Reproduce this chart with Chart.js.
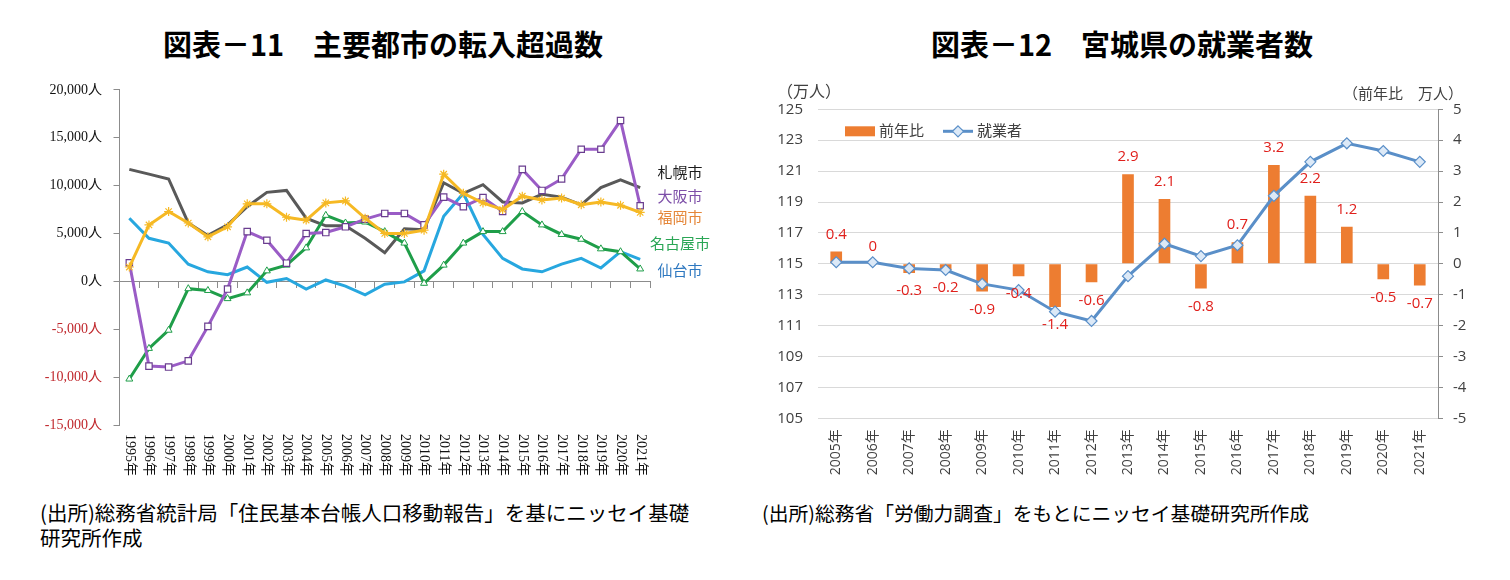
<!DOCTYPE html>
<html lang="ja">
<head>
<meta charset="utf-8">
<script src="https://cdn.jsdelivr.net/npm/chart.js@4.4.1/dist/chart.umd.min.js"></script>
<style>
  body { margin: 0; background: #fff; }
  #wrap { position: relative; width: 1510px; height: 580px; overflow: hidden; font-family: "Noto Sans CJK JP", sans-serif; }
  .title { position: absolute; top: 28px; line-height: 30px; font-size: 29px; font-weight: bold; white-space: nowrap; transform: translateX(-50%); color: #000; }
  .note { position: absolute; top: 500px; font-size: 20.5px; line-height: 25px; color: #000; white-space: nowrap; }
  .unit { position: absolute; line-height: 22px; color: #404040; white-space: nowrap; }
  canvas { position: absolute; }
</style>
</head>
<body>
<div id="wrap">
  <div class="title" style="left:383px">図表－11　主要都市の転入超過数</div>
  <div class="title" style="left:1122px">図表－12　宮城県の就業者数</div>

  <canvas id="migration" width="740" height="410" style="left:0;top:69.5px"></canvas>
  <canvas id="workers" width="760" height="410" style="left:750px;top:75px"></canvas>

  <div class="unit" style="left:777px;top:79px;font-size:16px">（万人）</div>
  <div class="unit" style="left:1343px;top:82px;font-size:15px">（前年比　万人）</div>

  <div class="note" style="left:40px">(出所)総務省統計局「住民基本台帳人口移動報告」を基にニッセイ基礎<br>研究所作成</div>
  <div class="note" style="left:762px;font-size:19.8px">(出所)総務省「労働力調査」をもとにニッセイ基礎研究所作成</div>
</div>

<script>
// ---- DATA: 図表-11 主要都市の転入超過数 (人)
const years = ["1995年", "1996年", "1997年", "1998年", "1999年", "2000年", "2001年", "2002年", "2003年",
  "2004年", "2005年", "2006年", "2007年", "2008年", "2009年", "2010年", "2011年", "2012年", "2013年",
  "2014年", "2015年", "2016年", "2017年", "2018年", "2019年", "2020年", "2021年"];
const sapporo = [11700, 11200, 10700, 6100, 4800, 5900, 7800, 9300, 9500, 6600, 5800, 5800, 4500, 3000,
  5500, 5400, 10300, 9200, 10100, 8300, 8200, 9100, 8800, 8000, 9800, 10600, 9800];
const osaka = [1950, -8850, -8950, -8300, -4700, -800, 5200, 4300, 1900, 5000, 5100, 5700, 6500, 7100,
  7100, 5900, 8800, 7800, 8750, 7300, 11700, 9500, 10700, 13800, 13800, 16800, 7900];
const fukuoka = [1500, 5900, 7300, 6100, 4650, 5700, 8100, 8100, 6700, 6400, 8200, 8400, 6600, 5000,
  5000, 5350, 11200, 9200, 8200, 7500, 8900, 8500, 8700, 8000, 8300, 7950, 7200];
const nagoya = [-10200, -7000, -5100, -760, -950, -1800, -1200, 1100, 1700, 3500, 6900, 6100, 6200, 5200,
  4000, -200, 1700, 4000, 5200, 5200, 7300, 5900, 4900, 4400, 3400, 3100, 1300];
const sendai = [6600, 4500, 4000, 1800, 1000, 700, 1500, -100, 300, -800, 150, -500, -1400, -300,
  -50, 1100, 6800, 9200, 4900, 2400, 1300, 1000, 1800, 2400, 1400, 3100, 2300];
const cityNames = ["札幌市", "大阪市", "福岡市", "名古屋市", "仙台市"];

// ---- DATA: 図表-12 宮城県の就業者数 (万人)
const empYears = ["2005年", "2006年", "2007年", "2008年", "2009年", "2010年", "2011年", "2012年", "2013年",
  "2014年", "2015年", "2016年", "2017年", "2018年", "2019年", "2020年", "2021年"];
const yoyChange = [0.4, 0, -0.3, -0.2, -0.9, -0.4, -1.4, -0.6, 2.9, 2.1, -0.8, 0.7, 3.2, 2.2, 1.2, -0.5, -0.7];
const workers = [115.1, 115.1, 114.7, 114.6, 113.7, 113.3, 111.9, 111.3, 114.2, 116.3, 115.5, 116.2,
  119.4, 121.6, 122.8, 122.3, 121.6];

const SERIF = "'Liberation Serif', 'Times New Roman', 'Noto Sans CJK JP', serif";
const SANS = "'Open Sans', 'Noto Sans CJK JP', sans-serif";
const AXIS_GRAY = "#8c8c8c";

// city names at right of chart 11 (offsets from top of plot)
const cityLabels = {
  id: "cityLabels",
  afterDraw(chart) {
    const ctx = chart.ctx;
    const area = chart.chartArea;
    const offsets = [84, 108, 129, 155, 182];
    const colors = ["#1a1a1a", "#7d4fa8", "#e5873a", "#2aa655", "#2e78c0"];
    ctx.save();
    ctx.font = "15px " + SANS;
    ctx.textAlign = "center";
    ctx.textBaseline = "middle";
    cityNames.forEach((name, i) => {
      ctx.fillStyle = colors[i];
      ctx.fillText(name, area.right + 30, area.top + offsets[i]);
    });
    ctx.restore();
  },
};

// year labels under chart 11, turned clockwise
const turnedYears = {
  id: "turnedYears",
  afterDraw(chart) {
    const ctx = chart.ctx;
    const xScale = chart.scales.x;
    const y0 = chart.chartArea.bottom + 9;
    ctx.save();
    ctx.font = "14px " + SERIF;
    ctx.fillStyle = "#111";
    ctx.textAlign = "left";
    ctx.textBaseline = "middle";
    years.forEach((label, i) => {
      ctx.save();
      ctx.translate(xScale.getPixelForValue(i), y0);
      ctx.rotate(Math.PI / 2);
      ctx.fillText(label, 0, 0);
      ctx.restore();
    });
    ctx.restore();
  },
};

new Chart(document.getElementById("migration"), {
  type: "line",
  data: {
    labels: years,
    datasets: [
      { label: "札幌市", data: sapporo, borderColor: "#595959", borderWidth: 3, pointRadius: 0, order: 5 },
      { label: "仙台市", data: sendai, borderColor: "#27a7df", borderWidth: 3, pointRadius: 0, order: 4 },
      {
        label: "名古屋市", data: nagoya, borderColor: "#1f9e49", borderWidth: 3,
        pointStyle: "triangle", pointRadius: 4, pointBackgroundColor: "#fff",
        pointBorderColor: "#1f9e49", pointBorderWidth: 1, order: 3,
      },
      {
        label: "大阪市", data: osaka, borderColor: "#9a5cc6", borderWidth: 3,
        pointStyle: "rect", pointRadius: 4.5, pointBackgroundColor: "#fff",
        pointBorderColor: "#6a3d8f", pointBorderWidth: 1.2, order: 2,
      },
      {
        label: "福岡市", data: fukuoka, borderColor: "#f6b924", borderWidth: 3,
        pointStyle: "star", pointRadius: 4.5, pointBorderColor: "#f6b924",
        pointBorderWidth: 1.2, order: 1,
      },
    ],
  },
  options: {
    responsive: false,
    animation: false,
    layout: { padding: { top: 8, right: 90, bottom: 55, left: 0 } },
    elements: { line: { tension: 0 } },
    plugins: { legend: { display: false }, tooltip: { enabled: false } },
    scales: {
      x: {
        type: "category",
        position: { y: 0 },
        offset: true,
        grid: { display: true, offset: true, drawOnChartArea: false, tickLength: 6, color: AXIS_GRAY },
        border: { color: AXIS_GRAY },
        ticks: { display: false },
      },
      y: {
        min: -15000,
        max: 20000,
        grid: { drawOnChartArea: false, tickLength: 6, color: AXIS_GRAY },
        border: { color: AXIS_GRAY },
        ticks: {
          stepSize: 5000,
          padding: 11.5,
          font: { family: SERIF, size: 14 },
          color: (c) => (c.tick && c.tick.value < 0 ? "#c0282d" : "#111"),
          callback: (v) => v.toLocaleString("en-US") + "人",
        },
        afterFit(scale) { scale.width = 119.5; },
      },
    },
  },
  plugins: [cityLabels, turnedYears],
});

// legend inside the plot of chart 12
const innerLegend = {
  id: "innerLegend",
  afterDraw(chart) {
    const ctx = chart.ctx;
    const area = chart.chartArea;
    const bars = chart.data.datasets[0];
    const line = chart.data.datasets[1];
    const cy = area.top + 22;
    ctx.save();
    ctx.font = "15px " + SANS;
    ctx.textBaseline = "middle";
    ctx.textAlign = "left";
    ctx.fillStyle = bars.backgroundColor;
    ctx.fillRect(area.left + 27, cy - 5, 30, 10);
    ctx.fillStyle = "#404040";
    ctx.fillText(bars.label, area.left + 61, cy);

    ctx.strokeStyle = line.borderColor;
    ctx.lineWidth = 3;
    ctx.beginPath();
    ctx.moveTo(area.left + 125, cy);
    ctx.lineTo(area.left + 155, cy);
    ctx.stroke();
    const dx = area.left + 140;
    ctx.beginPath();
    ctx.moveTo(dx, cy - 5.5);
    ctx.lineTo(dx + 5.5, cy);
    ctx.lineTo(dx, cy + 5.5);
    ctx.lineTo(dx - 5.5, cy);
    ctx.closePath();
    ctx.fillStyle = line.pointBackgroundColor;
    ctx.fill();
    ctx.lineWidth = 1.2;
    ctx.stroke();
    ctx.fillStyle = "#404040";
    ctx.fillText(line.label, area.left + 159, cy);
    ctx.restore();
  },
};

// red value labels on the bars
const barValues = {
  id: "barValues",
  afterDraw(chart) {
    const ctx = chart.ctx;
    const meta = chart.getDatasetMeta(0);
    ctx.save();
    ctx.font = "15px " + SANS;
    ctx.fillStyle = "#e0201c";
    ctx.textAlign = "center";
    ctx.textBaseline = "middle";
    meta.data.forEach((bar, i) => {
      const v = yoyChange[i];
      const y = v >= 0 ? bar.y - 17 : bar.y + 18;
      ctx.fillText(String(v), bar.x, y);
    });
    ctx.restore();
  },
};

new Chart(document.getElementById("workers"), {
  data: {
    labels: empYears,
    datasets: [
      {
        type: "bar", label: "前年比", data: yoyChange, yAxisID: "y2",
        backgroundColor: "#ed7d31", barPercentage: 0.32, categoryPercentage: 1, order: 2,
      },
      {
        type: "line", label: "就業者", data: workers, yAxisID: "y",
        borderColor: "#5a8fc8", borderWidth: 3, tension: 0,
        pointStyle: "rectRot", pointRadius: 5.5, pointBackgroundColor: "#dce9f7",
        pointBorderColor: "#5a8fc8", pointBorderWidth: 1.2, order: 1,
      },
    ],
  },
  options: {
    responsive: false,
    animation: false,
    layout: { padding: { top: 34.3, right: 0, bottom: 0, left: 0 } },
    plugins: { legend: { display: false }, tooltip: { enabled: false } },
    scales: {
      x: {
        offset: true,
        grid: { display: false, drawTicks: false },
        border: { display: false },
        ticks: { minRotation: 90, maxRotation: 90, padding: 11, color: "#404040", font: { family: SANS, size: 14 } },
        afterFit(scale) { scale.height = 66.7; },
      },
      y: {
        position: "left",
        min: 105,
        max: 125,
        grid: { color: "#d9d9d9", drawTicks: false },
        border: { display: false },
        ticks: { stepSize: 2, padding: 15, color: "#404040", font: { family: SANS, size: 15 } },
        afterFit(scale) { scale.width = 68; },
      },
      y2: {
        position: "right",
        min: -5,
        max: 5,
        grid: { drawOnChartArea: false, tickLength: 5, color: AXIS_GRAY },
        border: { color: AXIS_GRAY },
        ticks: { stepSize: 1, padding: 10, color: "#404040", font: { family: SANS, size: 15 } },
        afterFit(scale) { scale.width = 72; },
      },
    },
  },
  plugins: [innerLegend, barValues],
});
</script>
</body>
</html>
